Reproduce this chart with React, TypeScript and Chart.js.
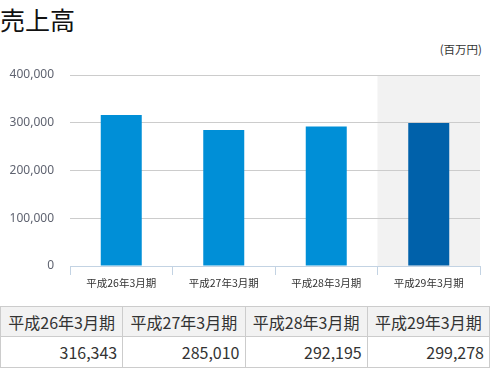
import React, { useEffect, useRef } from "react";
import { Chart, registerables } from "chart.js";

Chart.register(...registerables);

const categories = ["平成26年3月期", "平成27年3月期", "平成28年3月期", "平成29年3月期"];
const sales = [316343, 285010, 292195, 299278];
const barColors = ["#008fd7", "#008fd7", "#008fd7", "#0061aa"];
const highlightIndex = 3;

const fmt = (v: number) => v.toLocaleString("en-US");

const highlightPlugin = {
  id: "highlight",
  beforeDraw(chart: any) {
    const { ctx, chartArea, scales } = chart;
    const x = scales.x;
    const w = (chartArea.right - chartArea.left) / categories.length;
    const left = x.getPixelForValue(highlightIndex) - w / 2;
    ctx.save();
    ctx.fillStyle = "#f2f2f2";
    ctx.fillRect(left, chartArea.top, w, chartArea.bottom - chartArea.top);
    ctx.restore();
  },
};

export default function App() {
  const ref = useRef<HTMLCanvasElement>(null);
  useEffect(() => {
    document.body.style.margin = "0";
    const chart = new Chart(ref.current!, {
      type: "bar",
      data: {
        labels: categories,
        datasets: [
          {
            data: sales,
            backgroundColor: barColors,
            barPercentage: 0.4,
            categoryPercentage: 1,
          },
        ],
      },
      options: {
        animation: false,
        responsive: false,
        devicePixelRatio: 1,
        layout: { padding: { top: 75, right: 10, left: 0, bottom: 0 } },
        plugins: { legend: { display: false }, tooltip: { enabled: false } },
        scales: {
          x: {
            grid: {
              offset: true,
              drawOnChartArea: false,
              drawTicks: true,
              tickLength: 9,
              color: "#c3d3e3",
            },
            border: { display: true, color: "#c3d3e3" },
            ticks: {
              color: "#333",
              font: { family: "'Noto Sans CJK JP'", size: 10.5 },
              padding: 2,
              maxRotation: 0,
            },
            afterFit: (s: any) => {
              s.height = 34;
            },
          },
          y: {
            min: 0,
            max: 400000,
            grid: { color: "#cccccc", drawTicks: false },
            border: { display: false },
            ticks: {
              stepSize: 100000,
              color: "#5f6370",
              padding: 16,
              font: { family: "'Noto Sans'", size: 12 },
              callback: (v: any) => fmt(Number(v)),
            },
            afterFit: (s: any) => {
              s.width = 70;
            },
          },
        },
      },
      plugins: [highlightPlugin],
    });
    return () => chart.destroy();
  }, []);

  const cellBase: React.CSSProperties = {
    border: "1px solid #cccccc",
    fontFamily: "'Noto Sans CJK JP'",
    fontSize: 16,
    color: "#333",
    padding: "0 5px",
  };

  return (
    <div style={{ position: "relative", width: 490, height: 375, background: "#fff" }}>
      <div
        style={{
          position: "absolute",
          left: 0,
          top: 4,
          fontFamily: "'Noto Sans CJK JP'",
          fontSize: 25,
          lineHeight: "30px",
          color: "#111",
        }}
      >
        売上高
      </div>
      <div
        style={{
          position: "absolute",
          right: 8,
          top: 41,
          fontFamily: "'Noto Sans CJK JP'",
          fontSize: 11.5,
          lineHeight: "16px",
          color: "#333",
        }}
      >
        (百万円)
      </div>
      <canvas ref={ref} width={490} height={300} style={{ position: "absolute", left: 0, top: 0 }} />
      <table
        style={{
          position: "absolute",
          left: 0,
          top: 306,
          width: 490,
          borderCollapse: "collapse",
          tableLayout: "fixed",
        }}
      >
        <tbody>
          <tr style={{ height: 30 }}>
            {categories.map((c) => (
              <th key={c} style={{ ...cellBase, background: "#f2f2f2", fontWeight: "normal", textAlign: "center" }}>
                {c}
              </th>
            ))}
          </tr>
          <tr style={{ height: 31 }}>
            {sales.map((v, i) => (
              <td key={i} style={{ ...cellBase, textAlign: "right" }}>
                {fmt(v)}
              </td>
            ))}
          </tr>
        </tbody>
      </table>
    </div>
  );
}
